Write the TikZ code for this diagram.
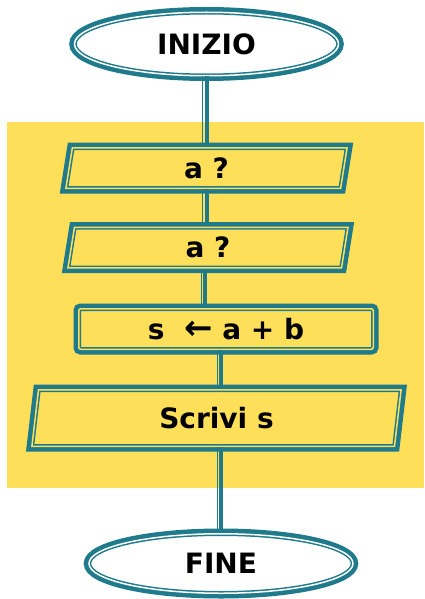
\documentclass[tikz,border=0pt]{standalone}
\usepackage{fontspec}
\setmainfont{DejaVu Sans}
\usepackage{tikz}
\usetikzlibrary{shapes.geometric}
\usepackage{xcolor}
\definecolor{bordo}{HTML}{1F7A8C}
\definecolor{giallo}{HTML}{FEDF5A}
\tikzset{
  cornice/.style={preaction={draw=bordo, line width=5.25pt}, draw=bordo, line width=0.75pt,
    double distance=0.75pt, inner sep=0pt, font=\fontsize{14}{16}\selectfont\bfseries},
  terminale/.style={cornice, ellipse, fill=white, double=white, minimum width=132pt, minimum height=31.75pt},
  ingresso/.style={cornice, trapezium, trapezium left angle=73, trapezium right angle=107,
    trapezium stretches body=true, fill=giallo, double=giallo, minimum height=20.25pt},
  calcolo/.style={cornice, rectangle, rounded corners=1pt, fill=giallo, double=giallo,
    minimum width=147.25pt, minimum height=20.25pt},
  filo/.style={draw=bordo, line width=2pt, postaction={draw=bordo, line width=0.5pt, transform canvas={xshift=-2pt}}}
}
\begin{document}
\begin{tikzpicture}[x=0.5pt, y=-0.5pt]
\useasboundingbox (0,0) rectangle (424,599);
\fill[giallo] (7,122) rectangle (424,488);
% blocchi
\node[terminale] (inizio) at (206.5,44) {INIZIO};
\node[ingresso, minimum width=140.6pt] (leggiA) at (206.5,168) {a ?};
\node[ingresso, minimum width=140pt] (leggiB) at (208,247.5) {a ?};
\node[calcolo] (somma) at (226,329) {s\ \ {\fontsize{17}{17}\selectfont ←} a + b};
\node[ingresso, minimum width=184.6pt, minimum height=28.25pt, trapezium left angle=73,
  trapezium right angle=107] (scrivi) at (216.5,418) {Scrivi s};
\node[terminale, minimum height=29.75pt] (fine) at (221,563.5) {FINE};
% collegamenti
\draw[filo] (inizio.south) -- (inizio.south |- leggiA.north);
\draw[filo] (leggiA.south) -- (leggiA.south |- leggiB.north);
\draw[filo] ([xshift=-1.5pt]leggiB.south) -- ([xshift=-1.5pt]leggiB.south |- somma.north);
\draw[filo] ([xshift=-2.5pt]somma.south) -- ([xshift=-2.5pt]somma.south |- scrivi.north);
\draw[filo] (fine.north |- scrivi.south) -- (fine.north);
\end{tikzpicture}
\end{document}
